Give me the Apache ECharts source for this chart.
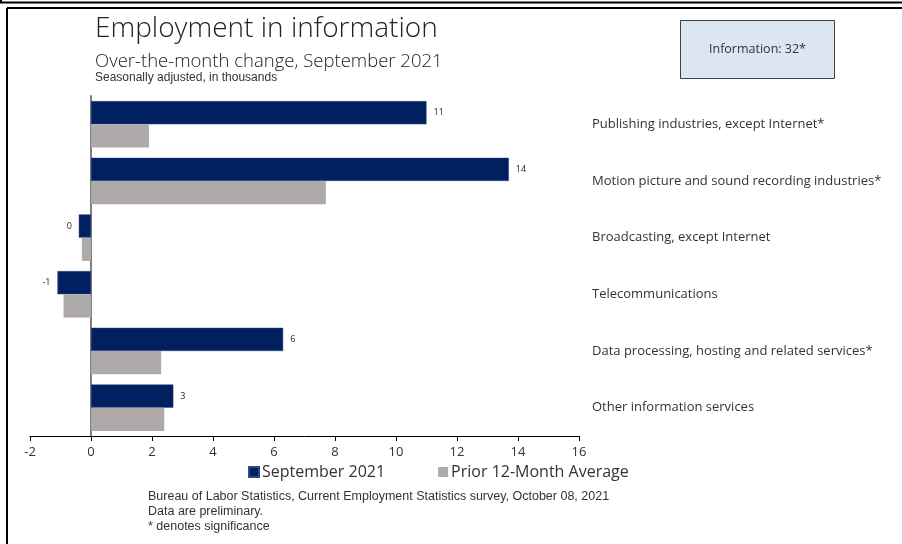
<!DOCTYPE html>
<html>
<head>
<meta charset="utf-8">
<script src="https://cdn.jsdelivr.net/npm/echarts@6/dist/echarts.min.js"></script>
<style>
  html, body { margin: 0; padding: 0; background: #fff; }
  #chart { width: 902px; height: 544px; }
</style>
</head>
<body>
<div id="chart"></div>
<script>
// Industry groups within Information, top to bottom
const categories = [
  'Publishing industries, except Internet*',
  'Motion picture and sound recording industries*',
  'Broadcasting, except Internet',
  'Telecommunications',
  'Data processing, hosting and related services*',
  'Other information services'
];
// Over-the-month change, thousands
const september2021 = [11.0, 13.7, -0.4, -1.1, 6.3, 2.7];
const prior12MonthAvg = [1.9, 7.7, -0.3, -0.9, 2.3, 2.4];
const seriesNames = ['September 2021', 'Prior 12-Month Average'];
const xTicks = [-2, 0, 2, 4, 6, 8, 10, 12, 14, 16];
const totalLabel = 'Information: 32*';

const BLUE = '#002060';
const GRAY = '#aeaaaa';
const TEXT = '#333333';
const SANS = '"Open Sans", "Liberation Sans", sans-serif';
const NARROW = '"Liberation Sans Narrow", "Liberation Sans", sans-serif';

const chart = echarts.init(document.getElementById('chart'), null, { renderer: 'canvas' });

const blueItems = september2021.map(v => ({
  value: v,
  label: { position: v < 0 ? 'left' : 'right' }
}));

chart.setOption({
  animation: false,
  backgroundColor: '#ffffff',
  grid: { left: 30, right: 323, top: 96, bottom: 108, containLabel: false },
  xAxis: {
    type: 'value',
    min: xTicks[0],
    max: xTicks[xTicks.length - 1],
    interval: 2,
    splitLine: { show: false },
    axisLine: { show: true, onZero: false, lineStyle: { color: '#000', width: 1 } },
    axisTick: { show: true, length: 5, lineStyle: { color: '#000' } },
    axisLabel: { color: TEXT, fontFamily: SANS, fontSize: 13, margin: 10 }
  },
  yAxis: [
    {
      type: 'category',
      data: categories,
      inverse: true,
      axisLine: { show: true, onZero: true, lineStyle: { color: '#7f7f7f', width: 2 } },
      axisTick: { show: false },
      axisLabel: { show: false }
    },
    {
      type: 'category',
      data: categories,
      inverse: true,
      position: 'right',
      axisLine: { show: false },
      axisTick: { show: false },
      axisLabel: {
        show: true, align: 'left', margin: 13,
        color: TEXT, fontFamily: SANS, fontSize: 13,
        padding: [5, 0, 0, 0]
      }
    }
  ],
  legend: {
    left: 243,
    top: 459,
    itemWidth: 10,
    itemHeight: 10,
    itemGap: 53,
    icon: 'rect',
    textStyle: { color: TEXT, fontFamily: SANS, fontSize: 16, padding: [0, 0, 0, -2] },
    data: seriesNames
  },
  series: [
    {
      name: seriesNames[0],
      type: 'bar',
      data: blueItems,
      barGap: '0%',
      barCategoryGap: '18%',
      itemStyle: { color: BLUE, borderColor: '#2c4a86', borderWidth: 0.5 },
      label: {
        show: true,
        distance: 7,
        color: '#222',
        fontFamily: SANS,
        fontSize: 9,
        formatter: p => String(Math.round(p.value))
      }
    },
    {
      name: seriesNames[1],
      type: 'bar',
      data: prior12MonthAvg,
      barGap: '0%',
      barCategoryGap: '18%',
      itemStyle: { color: GRAY }
    }
  ],
  graphic: [
    // frame lines
    { type: 'line', shape: { x1: 0, y1: 2.5, x2: 902, y2: 2.5 }, style: { stroke: '#000', lineWidth: 2 } },
    { type: 'line', shape: { x1: 1, y1: 0, x2: 1, y2: 3 }, style: { stroke: '#000', lineWidth: 2 } },
    { type: 'line', shape: { x1: 7, y1: 8, x2: 902, y2: 8 }, style: { stroke: '#000', lineWidth: 2 } },
    { type: 'line', shape: { x1: 7, y1: 8, x2: 7, y2: 544 }, style: { stroke: '#000', lineWidth: 2 } },
    // titles
    { type: 'text', left: 95, top: 15, style: { text: 'Employment in information', fill: '#222', font: '300 28px ' + SANS } },
    { type: 'text', left: 95, top: 52, style: { text: 'Over-the-month change, September 2021', fill: '#222', font: '300 18.5px ' + SANS } },
    { type: 'text', left: 95, top: 72, style: { text: 'Seasonally adjusted, in thousands', fill: TEXT, font: '12px ' + NARROW } },
    // total box
    {
      type: 'group', left: 680, top: 20,
      children: [
        { type: 'rect', shape: { x: 0, y: 0, width: 154, height: 58 }, style: { fill: '#dce6f2', stroke: '#404040', lineWidth: 1 } },
        { type: 'text', x: 77, y: 29, style: { text: totalLabel, fill: TEXT, font: '12.5px ' + SANS, align: 'center', verticalAlign: 'middle' } }
      ]
    },
    // source notes
    { type: 'text', left: 148, top: 490, style: { text: 'Bureau of Labor Statistics, Current Employment Statistics survey, October 08, 2021', fill: TEXT, font: '12.5px ' + NARROW } },
    { type: 'text', left: 148, top: 505, style: { text: 'Data are preliminary.', fill: TEXT, font: '12.5px ' + NARROW } },
    { type: 'text', left: 148, top: 520, style: { text: '* denotes significance', fill: TEXT, font: '12.5px ' + NARROW } }
  ]
});
</script>
</body>
</html>
